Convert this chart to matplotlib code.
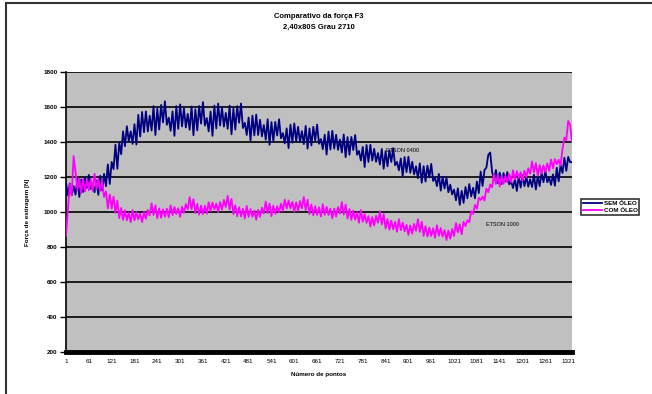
import numpy as np
import matplotlib
matplotlib.use("Agg")
import matplotlib.pyplot as plt
from matplotlib.patches import Rectangle

plt.rcParams['font.family'] = ['Liberation Sans', 'DejaVu Sans']

# sample index of every stored point (one every 5 samples)
sample_idx = list(range(1, 1332, 5))

# "SEM ÓLEO" series
sem_oleo = [
    1168, 1095, 1163, 1095, 1148, 1099, 1190, 1086, 1186, 1114,
    1199, 1138, 1212, 1132, 1159, 1113, 1181, 1098, 1207, 1124,
    1218, 1147, 1272, 1160, 1286, 1245, 1385, 1247, 1397, 1330,
    1461, 1376, 1490, 1404, 1461, 1389, 1502, 1385, 1555, 1431,
    1572, 1456, 1575, 1460, 1550, 1465, 1605, 1440, 1590, 1471,
    1612, 1512, 1633, 1498, 1539, 1464, 1575, 1435, 1605, 1475,
    1615, 1489, 1592, 1483, 1561, 1470, 1603, 1439, 1587, 1466,
    1606, 1505, 1628, 1494, 1537, 1461, 1574, 1435, 1608, 1477,
    1620, 1494, 1597, 1488, 1566, 1475, 1608, 1444, 1592, 1471,
    1605, 1510, 1620, 1480, 1510, 1440, 1540, 1408, 1551, 1438,
    1557, 1440, 1527, 1432, 1497, 1413, 1530, 1384, 1514, 1403,
    1515, 1437, 1530, 1421, 1451, 1392, 1478, 1365, 1499, 1396,
    1506, 1405, 1487, 1400, 1462, 1388, 1492, 1362, 1478, 1380,
    1487, 1409, 1500, 1390, 1417, 1359, 1442, 1328, 1459, 1357,
    1464, 1362, 1441, 1355, 1414, 1340, 1443, 1313, 1428, 1327,
    1429, 1354, 1440, 1327, 1349, 1294, 1372, 1257, 1383, 1286,
    1384, 1294, 1361, 1287, 1337, 1271, 1360, 1247, 1347, 1261,
    1354, 1286, 1365, 1267, 1286, 1238, 1306, 1204, 1314, 1228,
    1316, 1224, 1287, 1215, 1261, 1193, 1278, 1167, 1262, 1174,
    1265, 1198, 1275, 1177, 1197, 1148, 1218, 1122, 1202, 1134,
    1198, 1113, 1156, 1100, 1128, 1067, 1135, 1041, 1121, 1052,
    1143, 1078, 1160, 1089, 1138, 1078, 1174, 1108, 1231, 1149,
    1240, 1254, 1327, 1340, 1230, 1183, 1240, 1165, 1225, 1160,
    1222, 1175, 1228, 1158, 1174, 1137, 1190, 1120, 1205, 1140,
    1210, 1148, 1201, 1145, 1187, 1143, 1213, 1129, 1206, 1148,
    1223, 1170, 1235, 1170, 1195, 1155, 1215, 1150, 1253, 1175,
    1270, 1223, 1310, 1235, 1315, 1285, 1285,
]

# "COM ÓLEO" series
com_oleo = [
    864, 1010, 1160, 1096, 1320, 1230, 1125, 1190, 1108, 1188,
    1118, 1184, 1124, 1189, 1120, 1218, 1130, 1190, 1120, 1178,
    1086, 1118, 1020, 1100, 1020, 1088, 995, 1065, 965, 1023,
    955, 1010, 953, 996, 941, 1011, 952, 999, 958, 991,
    942, 1000, 961, 1012, 981, 1050, 983, 1038, 964, 1021,
    967, 1015, 973, 1019, 970, 1038, 982, 1029, 988, 1021,
    972, 1031, 995, 1045, 1016, 1085, 1016, 1073, 994, 1046,
    985, 1036, 988, 1036, 990, 1056, 1005, 1054, 1015, 1048,
    1000, 1057, 1013, 1069, 1029, 1092, 1014, 1075, 988, 1039,
    975, 1028, 975, 1018, 963, 1034, 972, 1017, 973, 1008,
    956, 1013, 972, 1025, 991, 1060, 994, 1048, 976, 1036,
    989, 1033, 998, 1048, 1005, 1071, 1020, 1066, 1021, 1058,
    1002, 1055, 1006, 1063, 1021, 1086, 1011, 1070, 988, 1042,
    981, 1033, 983, 1027, 974, 1044, 984, 1029, 983, 1019,
    964, 1019, 974, 1029, 991, 1057, 985, 1043, 963, 1017,
    955, 1008, 956, 998, 938, 1012, 945, 988, 938, 976,
    917, 971, 923, 979, 939, 1004, 929, 988, 906, 960,
    899, 951, 901, 944, 887, 959, 896, 939, 889, 927,
    869, 923, 877, 932, 893, 959, 886, 944, 864, 919,
    860, 911, 863, 907, 853, 924, 864, 908, 860, 897,
    840, 894, 847, 903, 863, 937, 884, 930, 873, 944,
    920, 953, 941, 1004, 989, 1041, 1018, 1081, 1068, 1089,
    1065, 1134, 1113, 1157, 1141, 1216, 1160, 1210, 1146, 1207,
    1161, 1206, 1169, 1217, 1171, 1238, 1186, 1234, 1194, 1227,
    1178, 1236, 1199, 1250, 1219, 1289, 1226, 1279, 1208, 1268,
    1221, 1266, 1229, 1278, 1235, 1300, 1250, 1302, 1273, 1299,
    1265, 1360, 1425, 1410, 1520, 1500, 1400,
]

y_ticks = [200, 400, 600, 800, 1000, 1200, 1400, 1600, 1800]
x_ticks = list(range(1, 1322, 60))

fig = plt.figure(figsize=(6.52, 3.94), dpi=100, facecolor='white')
ax = fig.add_axes([66 / 652, 1 - 352 / 394, 506 / 652, 280 / 394])
ax.set_facecolor('#c0c0c0')

ax.plot(sample_idx, sem_oleo, color='#000080', lw=1.3, label='SEM ÓLEO', zorder=3)
ax.plot(sample_idx, com_oleo, color='#ff00ff', lw=1.3, label='COM ÓLEO', zorder=3)

ax.set_xlim(1, 1331)
ax.set_ylim(200, 1800)
ax.set_yticks(y_ticks)
ax.set_yticklabels([str(v) for v in y_ticks], fontsize=4.5, fontweight='bold')
ax.set_xticks(x_ticks)
ax.set_xticklabels([str(v) for v in x_ticks], fontsize=4.5)
ax.tick_params(axis='y', length=4, width=1, direction='out', pad=2)
ax.tick_params(axis='x', length=0, pad=5)
ax.grid(axis='y', color='black', lw=1.2, zorder=1)
ax.set_axisbelow(True)

for s in ['top', 'right']:
    ax.spines[s].set_visible(False)
ax.spines['left'].set_linewidth(1.2)
ax.spines['bottom'].set_linewidth(3.5)

ax.set_ylabel('Força de estiragem [N]', fontsize=4.5, fontweight='bold', labelpad=10)
ax.set_xlabel('Número de pontos', fontsize=4.5, fontweight='bold', labelpad=6)

fig.text(319 / 652, 1 - 16 / 394, 'Comparativo da força F3', ha='center', va='center',
         fontsize=5.5, fontweight='bold')
fig.text(319 / 652, 1 - 27 / 394, '2,40x80S Grau 2710', ha='center', va='center',
         fontsize=5.5, fontweight='bold')

ax.text(0.633, 0.72, 'ETSON 0400', transform=ax.transAxes, fontsize=4, ha='left', va='center')
ax.text(0.83, 0.455, 'ETSON 1000', transform=ax.transAxes, fontsize=4, ha='left', va='center')

leg = fig.legend(loc='upper left', bbox_to_anchor=(578 / 652, 1 - 196 / 394),
                 fontsize=4.5, frameon=True, fancybox=False, handlelength=3,
                 borderpad=0.3, labelspacing=0.2, handletextpad=0.3)
leg.get_frame().set_edgecolor('black')
leg.get_frame().set_linewidth(1.2)
for t in leg.get_texts():
    t.set_fontweight('bold')

# outer chart border, only top and left edges visible
fig.add_artist(Rectangle((6 / 652, -0.2), 1.2, 1.2 - 3 / 394, fill=False,
                         edgecolor='#333333', lw=1.5, transform=fig.transFigure))

fig.savefig('out.png', dpi=100, facecolor='white')
